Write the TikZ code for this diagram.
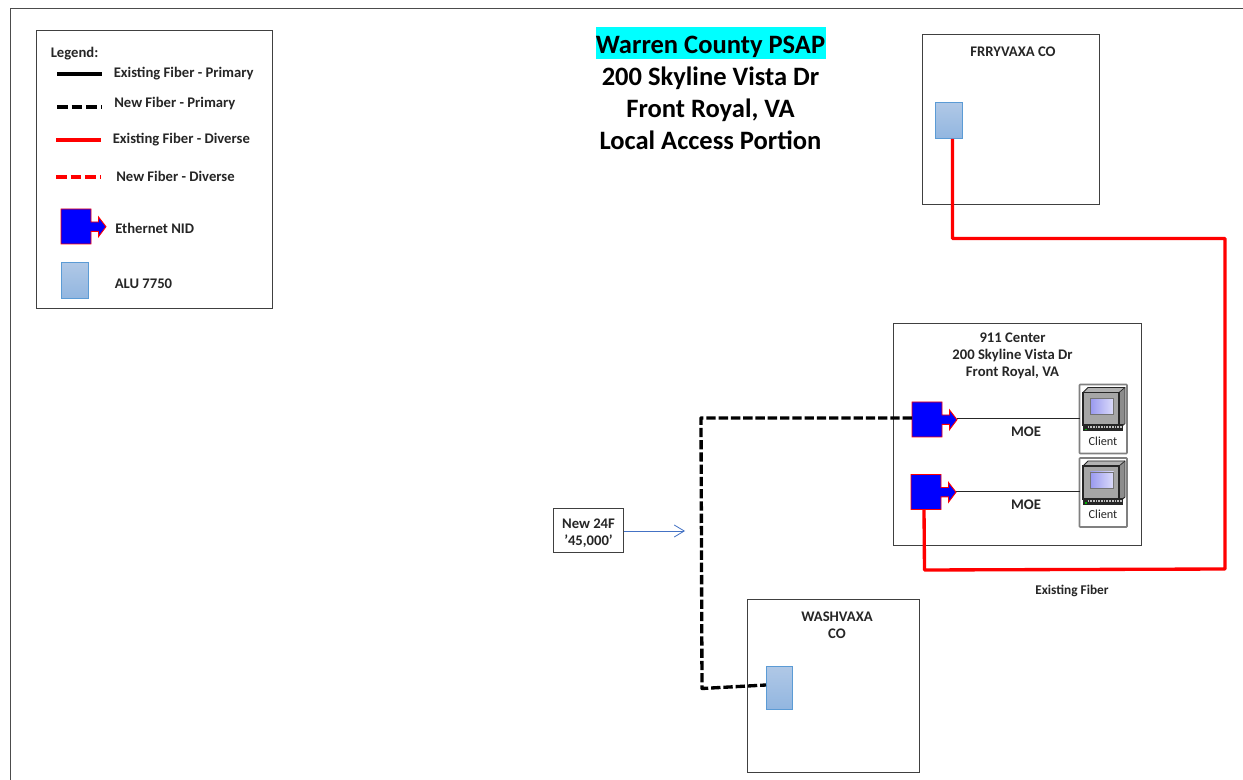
\documentclass[tikz,border=0pt]{standalone}
\usepackage{fontspec}
\setmainfont{Carlito}
\usetikzlibrary{arrows.meta}
\definecolor{aluT}{HTML}{B0C8E6}
\definecolor{aluB}{HTML}{92B6E0}
\definecolor{aluD}{HTML}{5B9BD5}
\definecolor{boxline}{HTML}{404040}
\definecolor{hilite}{HTML}{00FFFF}
\definecolor{arrowblue}{HTML}{4472C4}
\definecolor{pureblue}{HTML}{0000FF}
\definecolor{purered}{HTML}{FF0000}
\definecolor{scrA}{HTML}{9A9AF0}
\definecolor{scrB}{HTML}{DCDCFA}
\tikzset{
 x=0.75pt,y=-0.75pt,
 panel/.style={draw=boxline,line width=0.7pt,fill=white},
 lbl/.style={font=\fontsize{11pt}{12.75pt}\selectfont\bfseries,text=black!85,inner sep=0pt,align=center},
 ttl/.style={font=\fontsize{19.9pt}{24pt}\selectfont\bfseries,inner sep=0pt,align=center},
 alu/.style={draw=aluD,line width=0.6pt,top color=aluT,bottom color=aluB},
 nid/.style={draw=purered,line width=0.7pt,fill=pureblue},
 fibN/.style={line width=2.5pt,black,dash pattern=on 7pt off 2.2pt,line cap=butt,line join=round},
 fibR/.style={line width=2.5pt,purered,line join=round},
 thin link/.style={line width=0.65pt,black!85},
}
\newcommand{\nidshape}[3]{% x y name: top-left of square
 \path[nid] (#1,#2) -- ++(30,0) -- ++(0,13) -- ++(7.5,0) -- ++(0,-5) -- ++(7.5,9.7) -- ++(-7.5,10) -- ++(0,-5.3) -- ++(-7.5,0) -- ++(0,12.6) -- ++(-30,0) -- cycle;
 \coordinate (#3w) at (#1,#2+16);
 \coordinate (#3e) at (#1+45,#2+17.7);
 \coordinate (#3s) at (#1+13,#2+35);
}
\newcommand{\clientpc}[3]{% x y name: top-left of frame
 \draw[draw=black!50,line width=1.2pt,fill=white,rounded corners=0.5pt] (#1,#2) rectangle ++(47.5,69);
 % top and side of the case
 \fill[black!30] (#1+3.5,#2+8) -- ++(5,-5) -- ++(37,0) -- ++(-5,5) -- cycle;
 \fill[black!45] (#1+39.5,#2+8) -- ++(6,-5.5) -- ++(0,36) -- ++(-6,5) -- cycle;
 \draw[black!85,line width=0.7pt,line join=round] (#1+3.5,#2+8) -- ++(5,-5) -- ++(37,0) -- ++(0,36) -- ++(-6,5);
 \draw[black!85,line width=0.5pt] (#1+3.5,#2+8) -- ++(36,0) -- ++(6,-5);
 % front
 \fill[black!35] (#1+3.5,#2+8) rectangle ++(36,33);
 \draw[black!85,line width=0.8pt] (#1+3.5,#2+8) rectangle ++(36,33);
 \shade[left color=scrA,right color=scrB] (#1+11,#2+14) rectangle ++(23,16);
 \draw[black!55,line width=0.4pt] (#1+11,#2+14) rectangle ++(23,16);
 % keyboard
 \fill[black!85] (#1+3.5,#2+40) rectangle ++(40,7);
 \foreach \i in {0,...,12}{\fill[black!25] (#1+8+\i*2.7,#2+42) rectangle ++(1.7,2);}
 \fill[green!70!black] (#1+5,#2+44.5) rectangle ++(2.5,1.5);
 \node[font=\fontsize{9.2pt}{10pt}\selectfont,inner sep=0pt,text=black!85] at (#1+23.5,#2+56.5) {Client};
 \coordinate (#3) at (#1,#2+33.5);
}
\begin{document}
\begin{tikzpicture}
\useasboundingbox (0,0) rectangle (1243,780);
\fill[white] (0,0) rectangle (1243,780);
% page edge
\draw[black!70,line width=0.7pt] (10.5,780) -- (10.5,8.5) -- (1243,8.5);
% legend
\draw[panel] (36,30) rectangle (272,308);
\node[lbl,anchor=west] (lt) at (50.5,53.5) {Legend:};
\coordinate (l1a) at (57,74); \coordinate (l1b) at (102,74);
\coordinate (l2a) at (57,107); \coordinate (l2b) at (102,107);
\coordinate (l3a) at (56,140); \coordinate (l3b) at (101,140);
\coordinate (l4a) at (56,177); \coordinate (l4b) at (101,177);
\draw[line width=2.4pt,black] (l1a) -- (l1b);
\draw[line width=2.4pt,black,dash pattern=on 8pt off 3pt] (l2a) -- (l2b);
\draw[line width=2.4pt,purered] (l3a) -- (l3b);
\draw[line width=2.4pt,purered,dash pattern=on 8pt off 3pt] (l4a) -- (l4b);
\node[lbl,anchor=west] (e1) at (113.5,74) {Existing Fiber - Primary};
\node[lbl,anchor=west] (e2) at (114,104) {New Fiber - Primary};
\node[lbl,anchor=west] (e3) at (112.5,140) {Existing Fiber - Diverse};
\node[lbl,anchor=west] (e4) at (116,176.5) {New Fiber - Diverse};
\nidshape{61}{209}{lnid}
\node[lbl,anchor=west] (e5) at (115,228.5) {Ethernet NID};
\node[alu,minimum width=20pt,minimum height=27pt,inner sep=0pt,anchor=north west] (lalu) at (61,262) {};
\node[lbl,anchor=west] (e6) at (114.5,283.5) {ALU 7750};
% title
\fill[hilite] (595.5,27) rectangle (825.5,59);
\node[ttl] (title) at (710.5,47) {Warren County PSAP};
\node[ttl] (t2) at (710.5,78) {200 Skyline Vista Dr};
\node[ttl] (t3) at (710.5,110) {Front Royal, VA};
\node[ttl] (t4) at (710.5,140) {Local Access Portion};
% FRRY
\draw[panel] (922,34) rectangle (1099,204);
\node[lbl] (f) at (1013,51.5) {FRRYVAXA CO};
\node[alu,minimum width=20pt,minimum height=27pt,inner sep=0pt,anchor=north west] (falu) at (935,102) {};
% 911
\draw[panel] (893.5,323) rectangle (1141.5,545);
\node[lbl] (c) at (1012.5,355.5) {911 Center\\200 Skyline Vista Dr\\Front Royal, VA};
\nidshape{912}{402}{na}
\nidshape{911}{474.5}{nb}
\clientpc{1079.5}{384.5}{ca}
\clientpc{1079.5}{458}{cb}
\draw[thin link] (ca -| nae) -- (ca);
\draw[thin link] (cb -| nbe) -- (cb);
\node[lbl] (m1) at (1026,431.5) {MOE};
\node[lbl] (m2) at (1026,504.5) {MOE};
% WASH
\draw[panel] (747,599) rectangle (919.5,772);
\node[lbl] (w) at (837,625) {WASHVAXA\\CO};
\node[alu,minimum width=19.5pt,minimum height=32pt,inner sep=0pt,anchor=north west] (walu) at (766,666) {};
% callout
\node[draw=boxline,line width=0.7pt,fill=white,minimum width=52.5pt,minimum height=32.5pt,inner sep=0pt,lbl,text depth=0pt] (nf) at (588.5,530.5) {\raisebox{-2pt}{New 24F}\\\raisebox{-2pt}{’45,000’}};
\coordinate (nfe) at (685,531);
\draw[-{Straight Barb[length=7.5pt,width=9pt]},draw=arrowblue,line width=0.6pt] (nf.east |- nfe) -- (nfe);
% fibers
\coordinate (b1) at (701,418);
\coordinate (b2) at (702,688.5);
\coordinate (wend) at (766,685);
\draw[fibN] (naw) -- (b1) -- (b2) -- (wend);
\coordinate (r0) at (952.5,138);
\coordinate (r1) at (952.5,238.5);
\coordinate (r2) at (1225,238.5);
\coordinate (r3) at (1225,569);
\coordinate (r4) at (924.5,570);
\draw[fibR] (falu.south -| r0) -- (r1) -- (r2) -- (r3) -- (r4) -- (nbs);
\node[lbl,font=\fontsize{10pt}{10pt}\selectfont\bfseries] (ex) at (1072,590.5) {Existing Fiber};
\end{tikzpicture}
\end{document}
